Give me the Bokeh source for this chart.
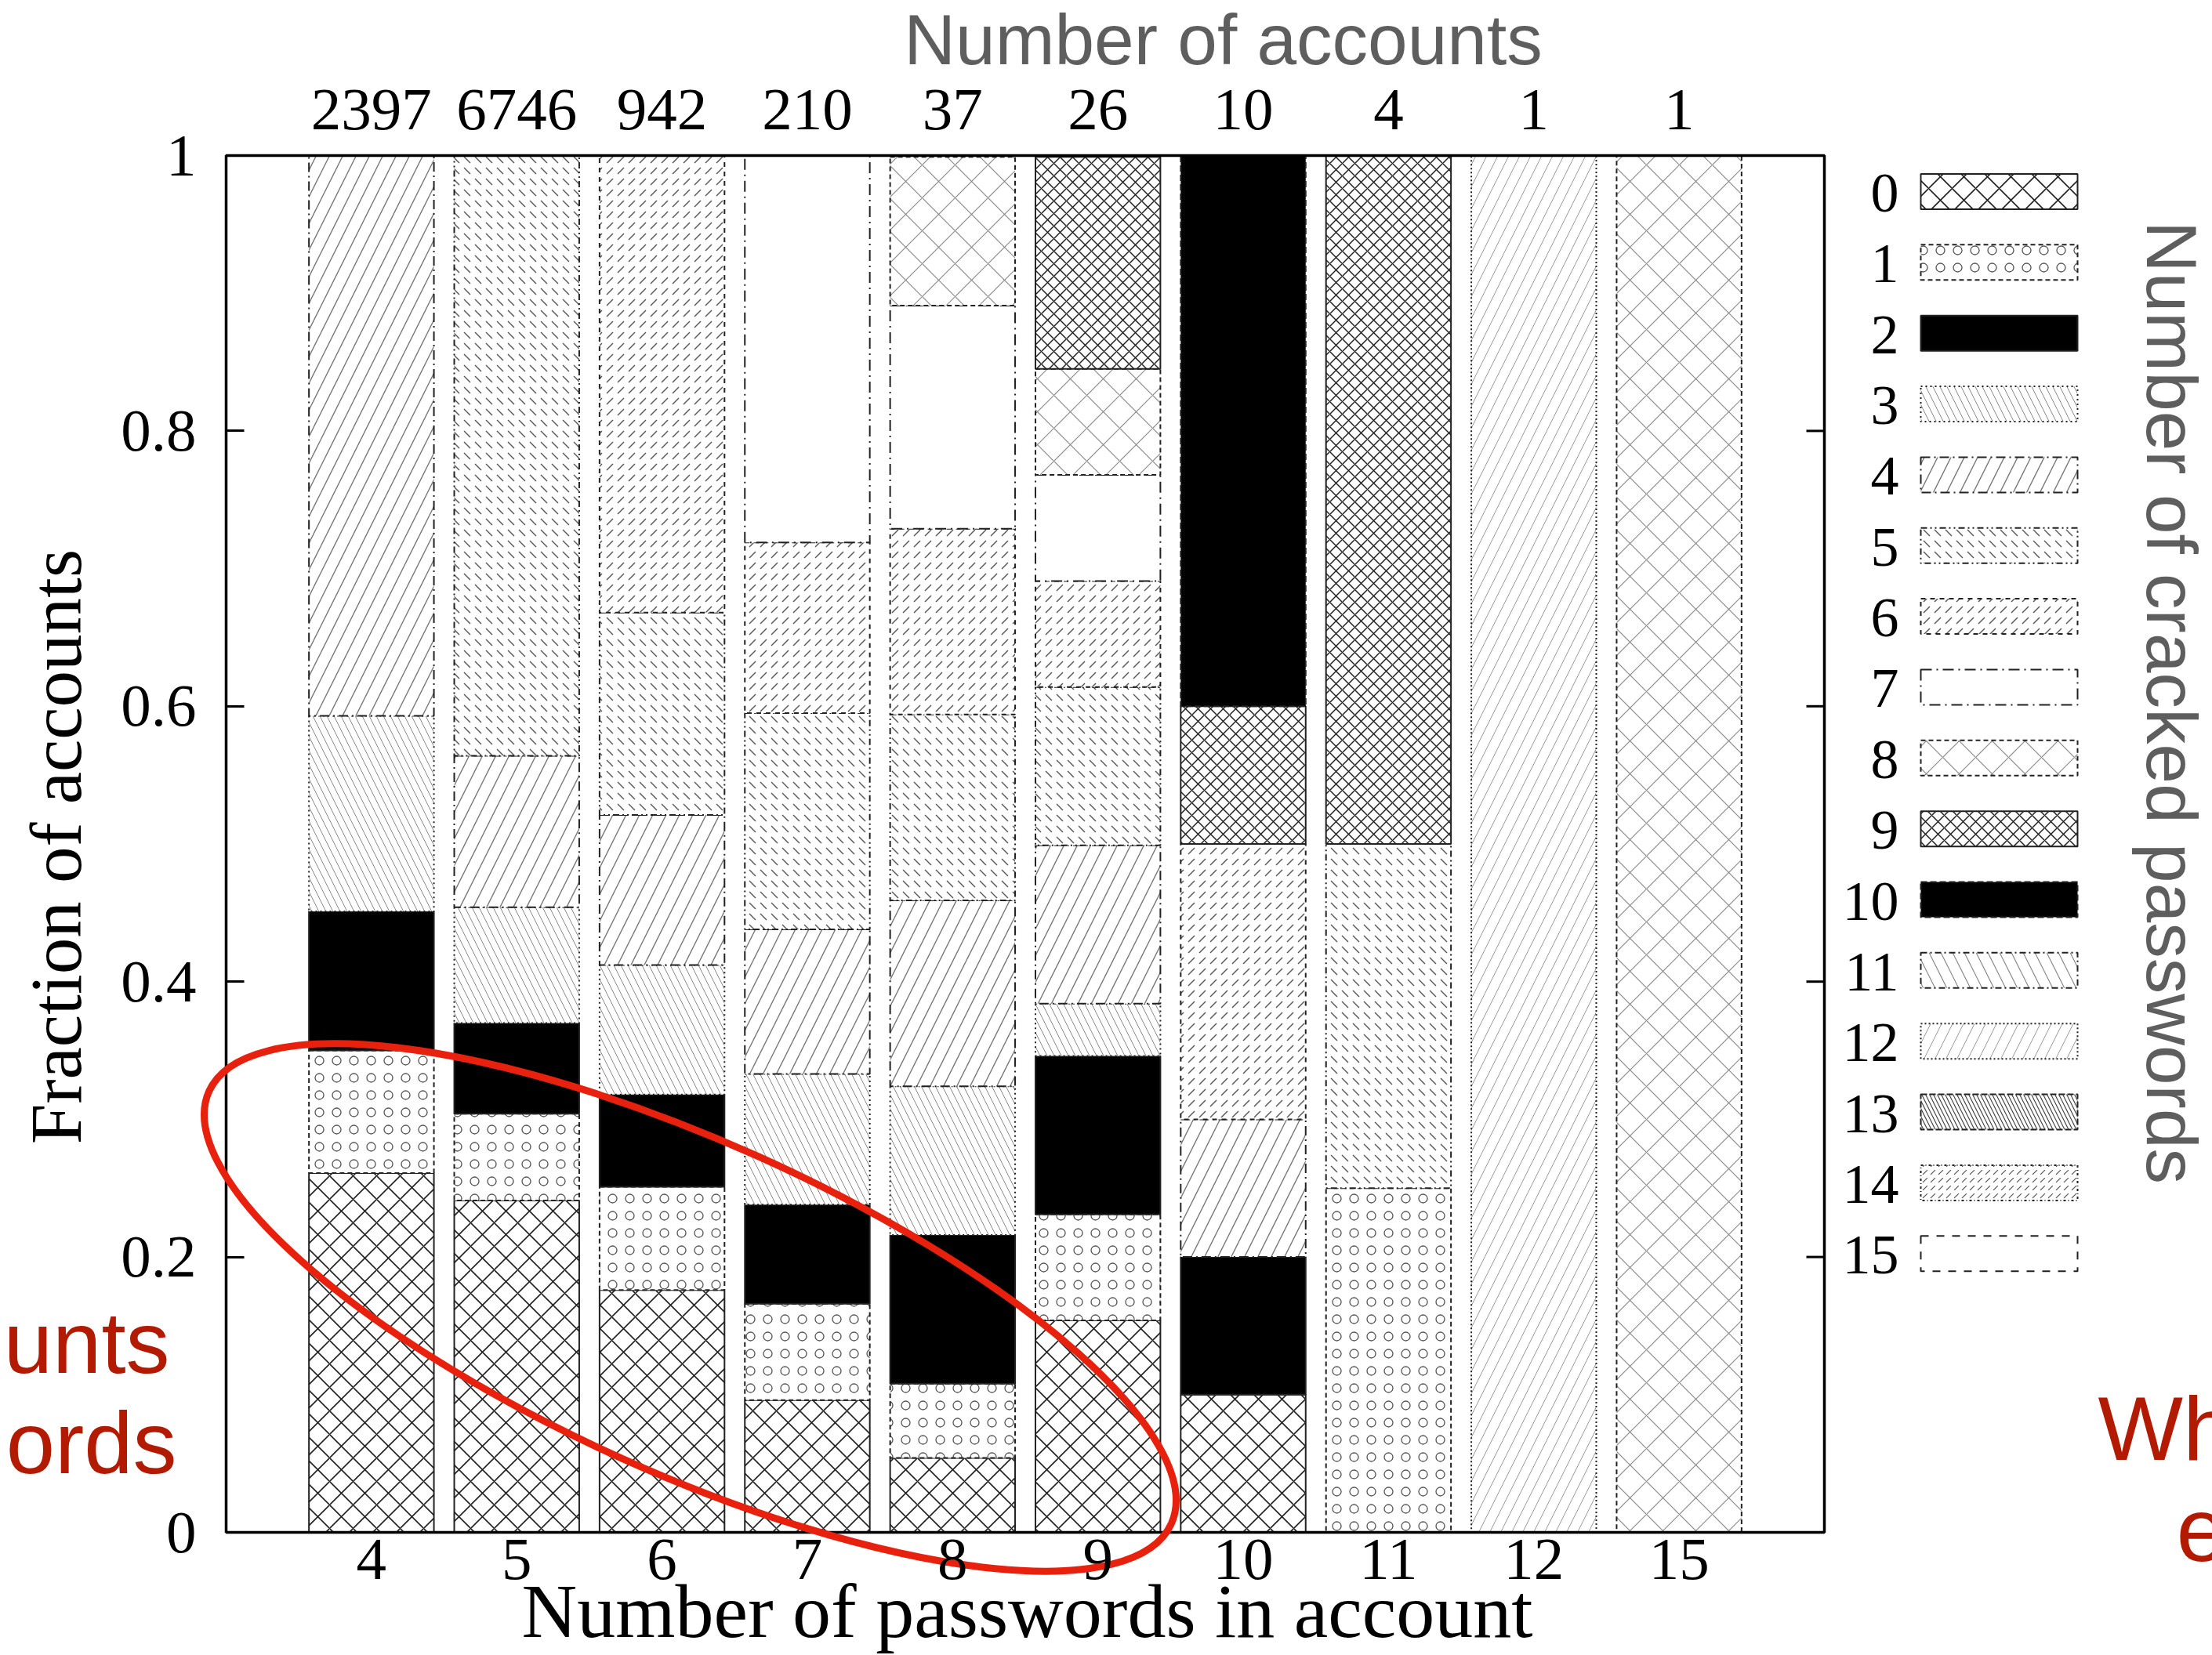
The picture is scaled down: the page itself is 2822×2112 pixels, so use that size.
import numpy as np
from bokeh.plotting import figure
from bokeh.models import (Range1d, LinearAxis, FixedTicker, NumeralTickFormatter, Label)
from bokeh.embed import file_html
from bokeh.resources import INLINE
from bokeh.core.properties import value

# ---------------- data ----------------
categories = ["4", "5", "6", "7", "8", "9", "10", "11", "12", "15"]
accounts = [2397, 6746, 942, 210, 37, 26, 10, 4, 1, 1]
cracked_levels = list(range(16))

# fraction of accounts with 0,1,2,... cracked passwords, per bar
frac_4 = [0.261, 0.089, 0.101, 0.142, 0.407]
frac_5 = [0.241, 0.063, 0.066, 0.084, 0.110, 0.436]
frac_6 = [0.176, 0.075, 0.067, 0.094, 0.109, 0.147, 0.332]
frac_7 = [0.096, 0.070, 0.072, 0.095, 0.105, 0.157, 0.124, 0.281]
frac_8 = [0.054, 0.054, 0.108, 0.108, 0.135, 0.135, 0.135, 0.162, 0.108]
frac_9 = [0.154, 0.077, 0.115, 0.038, 0.115, 0.115, 0.077, 0.077, 0.077, 0.154]
frac_10 = [0.1, 0.0, 0.1, 0.0, 0.1, 0.0, 0.2, 0.0, 0.0, 0.1, 0.4]
frac_11 = [0.0, 0.25, 0.0, 0.0, 0.0, 0.25, 0.0, 0.0, 0.0, 0.5, 0.0, 0.0]
frac_12 = [0.0] * 12 + [1.0]
frac_15 = [0.0] * 8 + [1.0] + [0.0] * 7

fractions = [frac_4, frac_5, frac_6, frac_7, frac_8, frac_9, frac_10, frac_11, frac_12, frac_15]
yticks = [0, 0.2, 0.4, 0.6, 0.8, 1.0]

# ---------------- layout constants (page pixels) ----------------
W, H = 2822, 2112
FRAME_L, FRAME_R, FRAME_T, FRAME_B = 288, 2327, 198, 1955
XLO, XHI = -1.0, 10.0          # plot-area x range (bar index units)
YLO, YHI = 0.0, 1.0
PX_X = (FRAME_R - FRAME_L) / (XHI - XLO)
PX_Y = (FRAME_B - FRAME_T) / (YHI - YLO)
x_start = XLO - FRAME_L / PX_X
x_end = x_start + W / PX_X
y_end = YHI + FRAME_T / PX_Y
y_start = y_end - H / PX_Y

def X(px):
    return x_start + px / PX_X

def Y(py):
    return y_end - py / PX_Y

SERIF = "Liberation Serif"
SANS = "Liberation Sans"
GRAY_TXT = "#5e5e5e"
RED_TXT = "#b21a02"
RED_LINE = "#e8210e"
LBL = 0.35   # label anchor correction, fraction of font size

def style(c):
    base = dict(fill_color="white", line_color="#222222", line_width=2)
    s = {
        0: dict(hatch_pattern="x", hatch_scale=30, hatch_weight=1.6, hatch_color="#222", line_dash="solid"),
        1: dict(hatch_pattern="o", hatch_scale=22, hatch_weight=1.3, hatch_color="#555", line_dash="6 4"),
        2: dict(fill_color="black", line_dash="solid"),
        3: dict(hatch_pattern="\\", hatch_scale=18, hatch_weight=1.0, hatch_color="#8a8a8a", line_dash="2 4"),
        4: dict(hatch_pattern="/", hatch_scale=34, hatch_weight=1.4, hatch_color="#777", line_dash="12 5 2 5"),
        5: dict(hatch_pattern="`", hatch_scale=14, hatch_weight=1.4, hatch_color="#555", line_dash="8 4 2 4 2 4"),
        6: dict(hatch_pattern=",", hatch_scale=14, hatch_weight=1.4, hatch_color="#555", line_dash="6 6"),
        7: dict(line_dash="14 6 2 6"),
        8: dict(hatch_pattern="x", hatch_scale=42, hatch_weight=1.2, hatch_color="#8a8a8a", line_dash="6 4"),
        9: dict(hatch_pattern="x", hatch_scale=16, hatch_weight=1.5, hatch_color="#222", line_dash="solid"),
        10: dict(fill_color="black", line_dash="8 4"),
        11: dict(hatch_pattern="\\", hatch_scale=30, hatch_weight=1.2, hatch_color="#888", line_dash="8 4 2 4"),
        12: dict(hatch_pattern="/", hatch_scale=28, hatch_weight=1.0, hatch_color="#9a9a9a", line_dash="2 3"),
        13: dict(hatch_pattern="\\", hatch_scale=10, hatch_weight=1.2, hatch_color="#444", line_dash="8 3"),
        14: dict(hatch_pattern=",", hatch_scale=10, hatch_weight=1.2, hatch_color="#555", line_dash="3 3 1 3"),
        15: dict(line_dash="10 10"),
    }[c]
    base.update(s)
    return base

BAR_HALF = 0.43

p = figure(width=W, height=H, x_range=Range1d(x_start, x_end), y_range=Range1d(y_start, y_end),
           output_backend="svg", toolbar_location=None, x_axis_type=None, y_axis_type=None,
           min_border=0)
p.outline_line_color = None
p.background_fill_color = "white"

# ---- stacked bars ----
for c in cracked_levels:
    L, R, B, T = [], [], [], []
    for i, fr in enumerate(fractions):
        if c < len(fr) and fr[c] > 0:
            base = float(sum(fr[:c]))
            L.append(i - BAR_HALF)
            R.append(i + BAR_HALF)
            B.append(base)
            T.append(base + fr[c])
    if L:
        p.quad(left=L, right=R, bottom=B, top=T, **style(c))

# ---- frame box and right-side mirror ticks ----
p.quad(left=[XLO], right=[XHI], bottom=[YLO], top=[YHI], fill_color=None,
       line_color="black", line_width=3.5)
TICK = 23 / PX_X
p.segment(x0=[XHI - TICK] * len(yticks), y0=yticks, x1=[XHI] * len(yticks), y1=yticks,
          line_color="black", line_width=3)

# ---- axes at fixed locations ----
left_ax = LinearAxis(fixed_location=XLO, bounds=(YLO, YHI), ticker=FixedTicker(ticks=yticks),
                     formatter=NumeralTickFormatter(format="0.[0]"),
                     major_label_text_font=SERIF, major_label_text_font_size="77px",
                     major_label_text_color="black",
                     major_label_standoff=38, major_tick_in=23, major_tick_out=0,
                     major_tick_line_width=3, minor_tick_line_color=None, axis_line_color=None)
p.add_layout(left_ax, "left")

bottom_ax = LinearAxis(fixed_location=YLO, bounds=(XLO, XHI),
                       ticker=FixedTicker(ticks=list(range(len(categories)))),
                       major_label_overrides={i: c for i, c in enumerate(categories)},
                       major_label_text_font=SERIF, major_label_text_font_size="77px",
                       major_label_text_color="black",
                       major_label_standoff=3, major_tick_line_color=None,
                       minor_tick_line_color=None, axis_line_color=None)
p.add_layout(bottom_ax, "below")

top_ax = LinearAxis(fixed_location=YHI, bounds=(XLO, XHI),
                    ticker=FixedTicker(ticks=list(range(len(accounts)))),
                    major_label_overrides={i: str(a) for i, a in enumerate(accounts)},
                    major_label_text_font=SERIF, major_label_text_font_size="77px",
                    major_label_text_color="black",
                    major_label_standoff=28, major_tick_line_color=None,
                    minor_tick_line_color=None, axis_line_color=None)
p.add_layout(top_ax, "above")

# ---- axis titles ----
p.add_layout(Label(x=X(1310), y=Y(2090 - LBL * 98), text="Number of passwords in account",
                   text_font=SERIF, text_font_size="98px", text_color="black",
                   text_align="center", text_baseline="alphabetic"))
p.add_layout(Label(x=X(104 - LBL * 93), y=Y(1080), text="Fraction of accounts", angle=np.pi / 2,
                   text_font=SERIF, text_font_size="93px", text_color="black",
                   text_align="center", text_baseline="alphabetic"))
p.add_layout(Label(x=X(1560), y=Y(82 - LBL * 91), text="Number of accounts",
                   text_font=SANS, text_font_size="91px", text_color=GRAY_TXT,
                   text_align="center", text_baseline="alphabetic"))

# ---- legend (keys + numbers) ----
ROW0, ROW_STEP, KEY_HALF = 244, 90.35, 22.5
row_y = [ROW0 + ROW_STEP * c for c in cracked_levels]
for c in cracked_levels:
    p.quad(left=[X(2450)], right=[X(2650)], top=[Y(row_y[c] - KEY_HALF)],
           bottom=[Y(row_y[c] + KEY_HALF)], **style(c))
p.text(x=[X(2422)] * len(cracked_levels), y=[Y(v + 2) for v in row_y],
       text=[str(c) for c in cracked_levels],
       text_font=value(SERIF), text_font_size=value("72px"), text_color="black",
       text_align="right", text_baseline="middle")
p.add_layout(Label(x=X(2738 + LBL * 91), y=Y(896), text="Number of cracked passwords",
                   angle=-np.pi / 2,
                   text_font=SANS, text_font_size="91px", text_color=GRAY_TXT,
                   text_align="center", text_baseline="alphabetic"))

# ---- slide annotations (red) ----
p.add_layout(Label(x=X(216), y=Y(1752 - LBL * 112), text="ounts", text_font=SANS,
                   text_font_size="112px", text_color=RED_TXT, text_align="right",
                   text_baseline="alphabetic"))
p.add_layout(Label(x=X(225), y=Y(1880 - LBL * 112), text="ords", text_font=SANS,
                   text_font_size="112px", text_color=RED_TXT, text_align="right",
                   text_baseline="alphabetic"))
p.add_layout(Label(x=X(2676), y=Y(1863 - LBL * 115), text="Wh", text_font=SANS,
                   text_font_size="115px", text_color=RED_TXT, text_align="left",
                   text_baseline="alphabetic"))
p.add_layout(Label(x=X(2776), y=Y(1992 - LBL * 115), text="e", text_font=SANS,
                   text_font_size="115px", text_color=RED_TXT, text_align="left",
                   text_baseline="alphabetic"))

p.ellipse(x=[X(880)], y=[Y(1668)], width=[1346], height=[423],
          width_units="screen", height_units="screen", angle=[np.deg2rad(-24.2)],
          fill_color=None, line_color=RED_LINE, line_width=9)

open("out.html", "w").write(file_html(p, INLINE))
